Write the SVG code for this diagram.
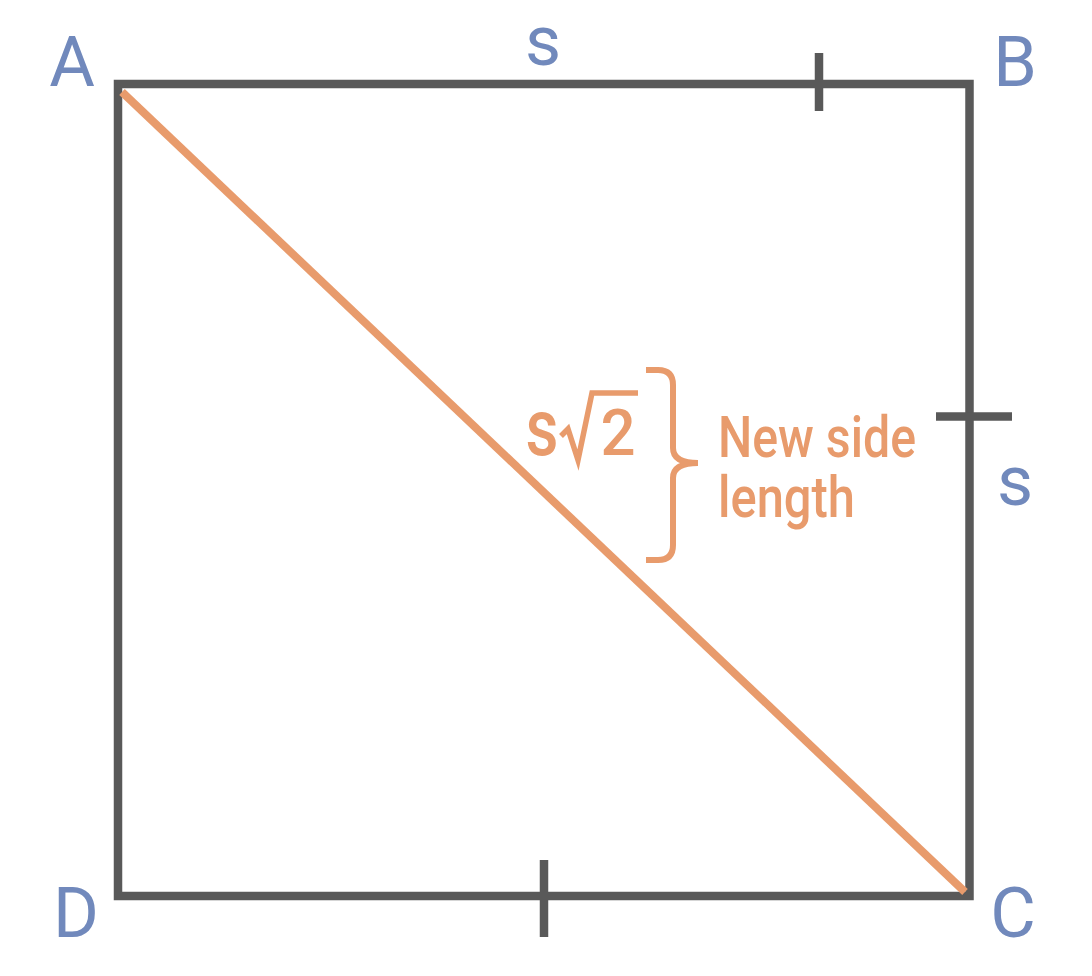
<svg xmlns="http://www.w3.org/2000/svg" width="1092" height="976" viewBox="0 0 1092 976">
<style>
.lbl{font-family:Roboto,"Liberation Sans",sans-serif;font-size:70px;fill:#7189BC;text-anchor:middle}
.or{font-family:Roboto,"Liberation Sans",sans-serif;font-weight:500;fill:#E89B6C}
.edge{fill:none;stroke:#595959;stroke-width:8.5}
.tick{stroke:#595959;stroke-width:8.5}
</style>
<rect width="1092" height="976" fill="#ffffff"/>
<g id="square">
<rect class="edge" x="118" y="84" width="851.5" height="812"/>
</g>
<g id="ticks">
<line class="tick" x1="819" y1="53" x2="819" y2="111"/>
<line class="tick" x1="936" y1="416.5" x2="1012" y2="416.5"/>
<line class="tick" x1="544" y1="860" x2="544" y2="937"/>
</g>
<g id="connectors">
<line x1="122" y1="92" x2="965" y2="892" stroke="#E89B6C" stroke-width="8"/>
</g>
<g id="labels">
<text class="lbl" x="72" y="86">A</text>
<text class="lbl" x="1015" y="86">B</text>
<text class="lbl" x="1013" y="937">C</text>
<text class="lbl" x="76" y="937">D</text>
<text class="lbl" x="543" y="65">s</text>
<text class="lbl" x="1015" y="505">s</text>
</g>
<g id="diagonal-label">
<text class="or" font-size="80" text-anchor="middle" transform="translate(542,455) scale(0.8,1)">s</text>
<path d="M561,436 L568,429 L578,460 L592,393 L638,393" fill="none" stroke="#E89B6C" stroke-width="5.5" stroke-linejoin="miter"/>
<text class="or" font-size="65" text-anchor="middle" transform="translate(618,455) scale(0.95,1)">2</text>
<path d="M646,370 L658,370 Q673,370 673,385 L673,448 Q673,463 698,463 Q673,463 673,478 L673,545 Q673,560 658,560 L646,560" fill="none" stroke="#E89B6C" stroke-width="6"/>
<text class="or" font-size="57" x="718" y="457" textLength="198" lengthAdjust="spacingAndGlyphs">New side</text>
<text class="or" font-size="57" x="718" y="517" textLength="137" lengthAdjust="spacingAndGlyphs">length</text>
</g>
</svg>
